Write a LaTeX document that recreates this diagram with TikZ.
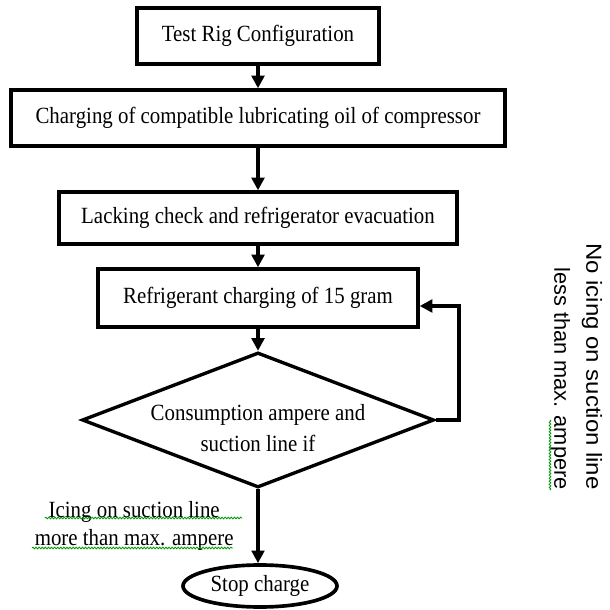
\documentclass[tikz,border=0pt]{standalone}
\usepackage{fontspec}
\setmainfont{Liberation Serif}[FakeStretch=0.9]
\newfontfamily\arialwide{Liberation Sans}[FakeStretch=1.1]
\newfontfamily\arialfont{Liberation Sans}
\usetikzlibrary{arrows.meta, shapes.geometric, decorations.pathmorphing}

\begin{document}
\begin{tikzpicture}[
    stage/.style={draw, line width=2.4pt, minimum height=1.4cm, font=\fontsize{16.5}{22}\selectfont},
    flow/.style={-{Triangle[length=9pt, width=9pt]}, line width=2.4pt},
    squig/.style={green!60!black, line width=0.6pt, decorate, decoration={snake, amplitude=0.6pt, segment length=2.2pt}}
  ]
    \useasboundingbox (0,0) rectangle (15.25,15.25);
    \node[stage, minimum width=6.05cm] (cfg) at (6.45, 14.35){Test Rig Configuration};
    \node[stage, minimum width=12.35cm] (oil) at (6.45, 12.3){Charging of compatible lubricating oil of compressor};
    \node[stage, minimum width=9.95cm, minimum height=1.3cm] (leak) at (6.45, 9.8){Lacking check and refrigerator evacuation};
    \node[stage, minimum width=8.0cm, minimum height=1.45cm] (refr) at (6.45, 7.8){Refrigerant charging of 15 gram};
    \node[draw, diamond, aspect=2.6, inner sep=0pt, line width=2.4pt, minimum width=8.8cm, minimum height=3.375cm] (dia) at (6.45, 4.75){};
    \node[align=center, font=\fontsize{16.5}{22.5}\selectfont] (diatxt) at ([yshift=-0.2cm]dia.center){Consumption ampere and\\suction line if};
    \node[draw, ellipse, inner sep=0pt, line width=2.6pt, minimum width=3.85cm, minimum height=1.05cm,
      font=\fontsize{16.5}{18}\selectfont] (stop) at (6.5, 0.6){Stop charge};
    \draw[flow] (cfg)--(oil);
    \draw[flow] (oil)--(leak);
    \draw[flow] (leak)--(refr);
    \draw[flow] (refr)--(dia);
    \draw[flow] (dia.south)--(dia.south |- stop.north) node[midway, left=0.45cm, align=center, font=\fontsize{16.5}{20}\selectfont] (icelbl){Icing on suction line\\more than max. ampere};
    \draw[flow] (dia.east)--++(0.58,0) |- ([yshift=-0.2cm]refr.east);
    \node[rotate=-90, anchor=east, inner sep=0pt, align=right, font=\fontsize{15.5}{22.7}\selectfont] (nolbl) at (14.4, 3.0){\arialwide No icing on suction line\\\arialfont less than max. ampere};
    % spell-check marks
    \draw[squig] (1.12, 2.3)--(6.05, 2.3);
    \draw[squig] (0.8, 1.55)--(5.83, 1.55);
    \draw[squig] (13.75, 4.75)--(13.75, 3.0);
  \end{tikzpicture}
\end{document}
